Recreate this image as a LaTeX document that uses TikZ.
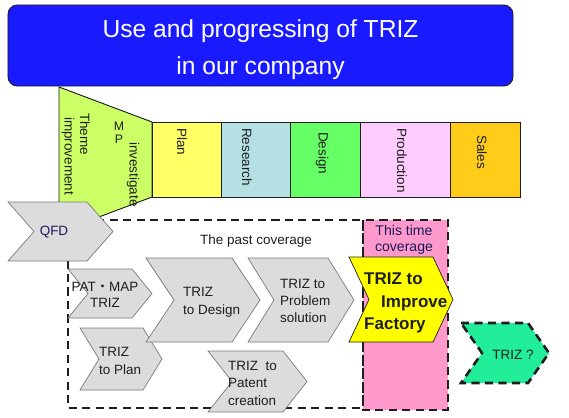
\documentclass[tikz,border=0pt]{standalone}
\usepackage{fontspec}
\setmainfont{Liberation Sans}
\newfontfamily\cjk{Noto Sans CJK JP}
\usepackage{xcolor}
\usepackage{tikz}
\usetikzlibrary{positioning}
\definecolor{titleBlue}{HTML}{1A1AFF}
\definecolor{inkOne}{HTML}{1E1E1E}
\definecolor{inkNavy}{HTML}{1A1A5A}
\definecolor{funnelGreen}{HTML}{CCFF66}
\definecolor{planYellow}{HTML}{FFFF66}
\definecolor{researchBlue}{HTML}{B4E0E4}
\definecolor{designGreen}{HTML}{66FF66}
\definecolor{prodPink}{HTML}{FFCCFF}
\definecolor{salesGold}{HTML}{FFCC1A}
\definecolor{greyFill}{HTML}{DCDCDC}
\definecolor{greyLine}{HTML}{7A7A7A}
\definecolor{coverPink}{HTML}{FF99CC}
\definecolor{factYellow}{HTML}{FFFF00}
\definecolor{nextGreen}{HTML}{22EE99}
\tikzset{
  lbl/.style={font=\fontsize{11.5}{15}\selectfont, text=inkOne, inner sep=0pt},
  vlbl/.style={lbl, rotate=-90, anchor=west},
  stage/.style={draw=inkOne, line width=0.8pt},
  chv/.style={draw=greyLine, line width=0.6pt, fill=greyFill},
  cover/.style={draw=inkOne, line width=2.2pt, dash pattern=on 7pt off 4.5pt},
}

\begin{document}
\begin{tikzpicture}[x=0.03cm, y=-0.03cm]
  \useasboundingbox (0,0) rectangle (569,417);
  % \chev{style}{left}{top}{right}{bottom}{depth of tip and notch}
  \newcommand{\chev}[6]{\draw[#1] (#2,#3) -- ({#4-#6},#3) -- (#4,{(#3+#5)/2}) -- ({#4-#6},#5)
    -- (#2,#5) -- ({#2+#6},{(#3+#5)/2}) -- cycle;}
  % ---- title
  \node[draw=inkOne, line width=0.8pt, fill=titleBlue, rounded corners=8pt, minimum width=15.15cm,
    minimum height=2.43cm] (title) at (260.5,45.5) {};
  \node[text=white, align=center, font=\fontsize{21}{31.5}\selectfont, inner sep=0pt] (titletext)
    at (260.5,49.5) {Use and progressing of TRIZ\\in our company};
  % ---- funnel and stages
  \draw[stage, fill=funnelGreen] (59,87) -- (152,122) -- (152,197) -- (59,232) -- cycle;
  \node[vlbl] (theme) at (85,113) {Theme};
  \node[vlbl] (improvement) at (68,117) {improvement};
  \node[lbl, align=center, font=\fontsize{10.5}{11.5}\selectfont] (mp) at (119,133) {M\\P};
  \node[vlbl] (investigate) at (133,142) {investigate};
  \foreach \nm/\xa/\xb/\c/\tx/\ty in {Plan/152/221/planYellow/182/128, Research/221/290/researchBlue/247/128,
    Design/290/360/designGreen/322/132, Production/360/450/prodPink/402/128, Sales/450/520/salesGold/482/135} {
    \draw[stage, fill=\c] (\xa,122) rectangle (\xb,197);
    \node[vlbl] (st\nm) at (\tx,\ty) {\nm};
  }
  % ---- coverage frames
  \draw[cover, fill=coverPink] (363,220) rectangle (448,410);
  \draw[cover] (68,220) rectangle (363,408);
  \node[lbl, font=\fontsize{11.5}{14}\selectfont] (past) at (256,241) {The past coverage};
  \node[lbl, align=center, text=inkNavy, font=\fontsize{12}{13.7}\selectfont] (thistime) at (404,240)
    {This time\\coverage};
  % ---- chevrons
  \chev{chv}{8}{202}{113}{261}{26}
  \node[lbl, text=inkNavy] (qfd) at (54,232) {QFD};
  \chev{chv}{68}{269}{152}{318}{20}
  \node[lbl, align=center, font=\fontsize{11.5}{13.7}\selectfont] (patmap) at (105,295) {PAT{\cjk ・}MAP\\TRIZ};
  \chev{chv}{80}{328}{162}{390}{19}
  \node[lbl, align=left, anchor=west] (toplan) at (99,361) {TRIZ\\to Plan};
  \chev{chv}{146}{258}{260}{342}{28}
  \node[lbl, align=left, anchor=west] (todesign) at (183,302) {TRIZ\\to Design};
  \chev{chv}{248}{258}{354}{342}{26}
  \node[lbl, align=left, anchor=west, font=\fontsize{11.5}{14.5}\selectfont] (toproblem) at (280,301)
    {TRIZ to\\Problem\\solution};
  \chev{chv}{208}{351}{307}{412}{24}
  \node[lbl, align=left, anchor=west] (topatent) at (228,383) {TRIZ~ to\\Patent\\creation};
  \chev{draw=inkOne, line width=0.6pt, fill=factYellow}{349}{257}{453}{342}{20}
  \node[lbl, align=left, anchor=west, font=\bfseries\fontsize{14.5}{19.5}\selectfont] (tofactory) at (364,303)
    {TRIZ to\\\hspace*{1em}Improve\\Factory};
  \chev{cover, fill=nextGreen}{461}{323}{549}{383}{21}
  \node[lbl] (triznext) at (513,355) {TRIZ ?};
\end{tikzpicture}
\end{document}
